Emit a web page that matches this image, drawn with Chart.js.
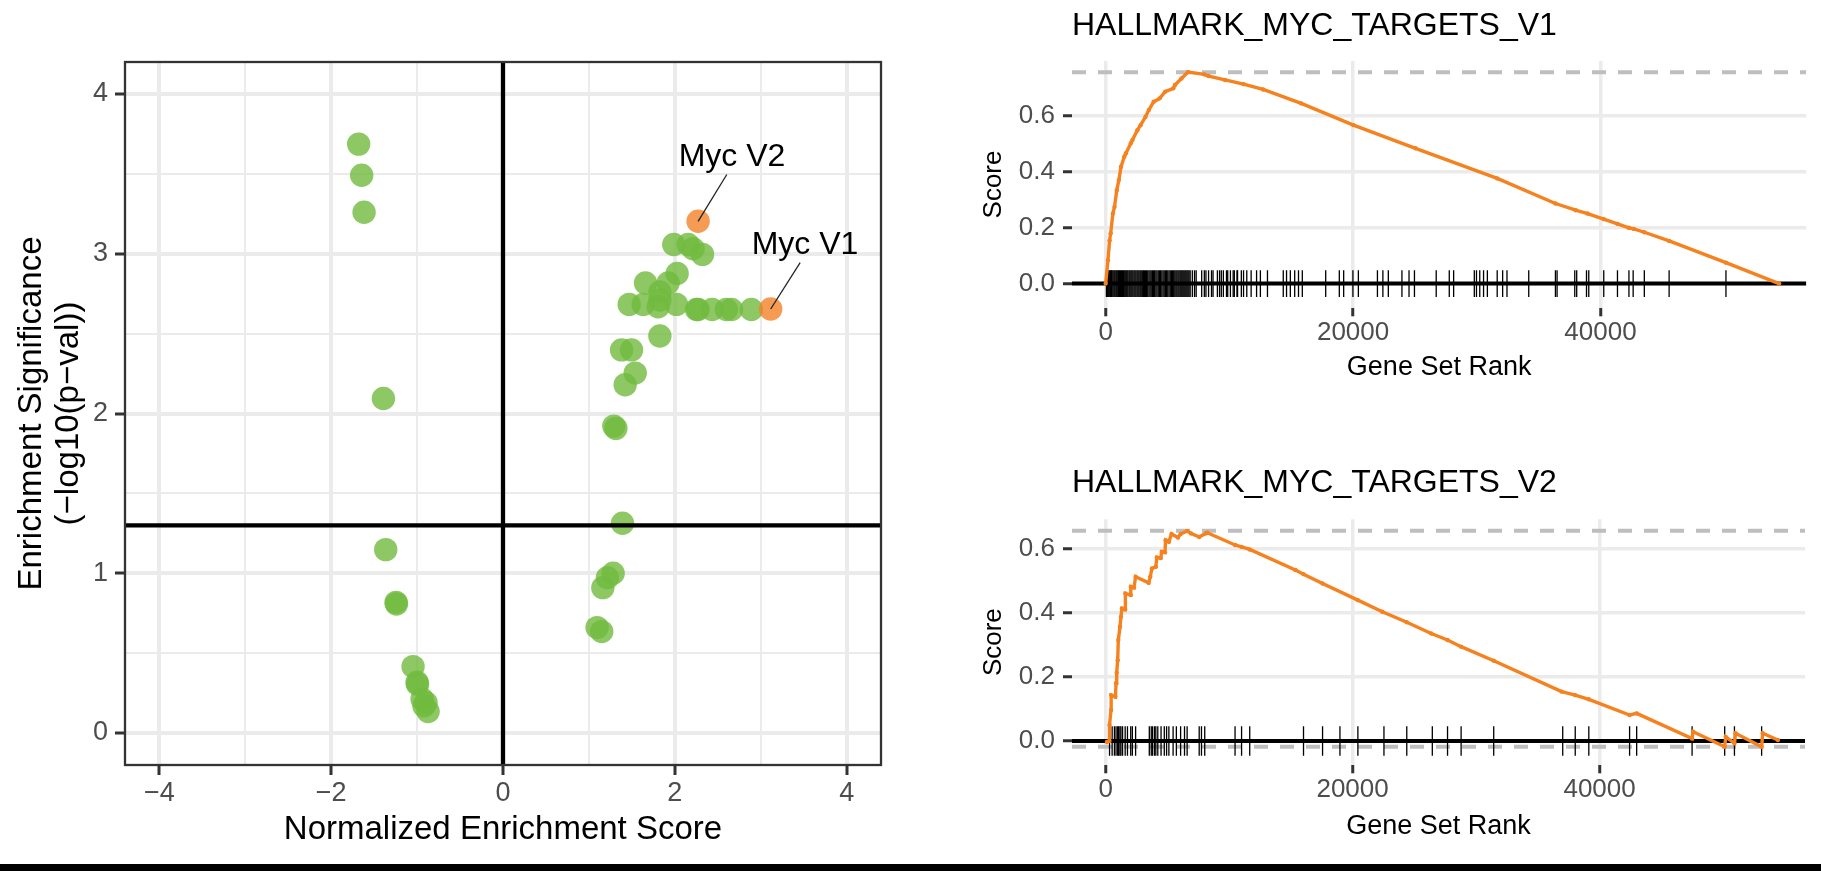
<!DOCTYPE html>
<html>
<head>
<meta charset="utf-8">
<script src="https://cdn.jsdelivr.net/npm/chart.js@4.4.1/dist/chart.umd.min.js"></script>
<style>
    html, body { margin: 0; padding: 0; background: #fff; overflow: hidden; width: 1821px; height: 871px; }
    canvas { position: absolute; }
    #nes-chart { left: 0; top: 0; }
    #v1-chart { left: 950px; top: 0; }
    #v2-chart { left: 950px; top: 430px; }
    #band { position: absolute; left: 0; top: 864px; width: 1821px; height: 7px; background: #000; }
</style>
</head>
<body>
<canvas id="nes-chart" width="950" height="864"></canvas>
<canvas id="v1-chart" width="871" height="430"></canvas>
<canvas id="v2-chart" width="871" height="434"></canvas>
<div id="band"></div>
<script>
// ---- left panel: NES vs -log10(p) ----
const nesOther = [
    -1.68, -1.645, -1.617, -1.392, -1.365, -1.245, -1.24, -1.047, -1.0, -0.995, -0.942, -0.895, -0.92, -0.872,
    1.988, 2.155, 2.213, 2.322, 2.027, 1.922, 1.659, 1.826, 1.826, 1.469, 1.632, 1.806, 2.019, 2.252,
    2.271, 2.434, 2.6, 2.66, 2.891, 1.826, 1.38, 1.496, 1.539, 1.422, 1.29, 1.314, 1.391, 1.282,
    1.215, 1.162, 1.095, 1.149,
];
const sigOther = [
    3.686, 3.491, 3.26, 2.094, 1.148, 0.818, 0.808, 0.416, 0.318, 0.305, 0.213, 0.19, 0.17, 0.135,
    3.058, 3.058, 3.031, 2.996, 2.876, 2.817, 2.817, 2.761, 2.71, 2.683, 2.683, 2.668, 2.683, 2.651,
    2.651, 2.651, 2.651, 2.651, 2.651, 2.485, 2.398, 2.398, 2.253, 2.18, 1.921, 1.907, 1.313, 1.0,
    0.972, 0.91, 0.66, 0.635,
];
const mycLabels = ["Myc V1", "Myc V2"];
const nesMyc = [3.116, 2.271];
const sigMyc = [2.654, 3.203];
const mycLabelNes = [3.515, 2.666];
const mycLabelSig = [3.052, 3.602];
const mycLeaderNes = [3.459, 2.605];
const mycLeaderSig = [2.944, 3.496];
const pCutoff = 1.3;
const nesRange = [-4.4, 4.4];
const sigRange = [-0.2, 4.2];
const nesTicks = [-4, -3, -2, -1, 0, 1, 2, 3, 4];
const sigTicks = [0, 0.5, 1, 1.5, 2, 2.5, 3, 3.5, 4];

// ---- right panels: running enrichment score ----
const v1Rank = [0, 185, 317, 404, 581, 713, 898, 1064, 1241, 1505, 1637, 2033, 2163, 2561, 2823, 3221, 3485,
    3881, 4365, 4806, 5465, 5598, 6125, 6653, 7974, 8325, 9647, 11143, 12727, 15807, 20030, 25046, 31650,
    36356, 37996, 38946, 40264, 41372, 42297, 42693, 43541, 45545, 50139, 54440];
const v1Score = [0, 0.084, 0.155, 0.18, 0.251, 0.275, 0.335, 0.371, 0.419, 0.455, 0.467, 0.503, 0.515, 0.55,
    0.568, 0.598, 0.622, 0.652, 0.664, 0.688, 0.70, 0.712, 0.735, 0.758, 0.750, 0.744, 0.73, 0.715, 0.696,
    0.646, 0.568, 0.485, 0.377, 0.287, 0.263, 0.251, 0.231, 0.214, 0.20, 0.196, 0.184, 0.153, 0.075, 0];
const v1Hits = [60, 130, 190, 250, 330, 400, 470, 520, 600, 680, 750, 830, 900, 980, 1050, 1120, 1200, 1280,
    1350, 1430, 1500, 1580, 1660, 1730, 1800, 1890, 1960, 2040, 2120, 2200, 2290, 2370, 2450, 2540, 2620,
    2700, 2790, 2870, 2960, 3050, 3130, 3220, 3310, 3400, 3500, 3590, 3680, 3780, 3870, 3960, 4060, 4150,
    4250, 4350, 4440, 4540, 4640, 4730, 4830, 4930, 5020, 5120, 5220, 5310, 5410, 5500, 5590, 5680, 5760,
    5850, 5930, 6020, 6100, 6180, 6260, 6340, 6420, 6500, 6580, 6660, 6740, 6830,
    7004, 7182, 7314, 7762, 7974, 8106, 8317, 8554, 8678, 9030, 9204, 9347, 9512, 9766, 9865, 10083, 10306,
    10400, 10614, 10660, 10966, 11144, 11406, 11758, 12198, 12506, 13078, 14355, 14620, 14927, 15279, 15587,
    15895, 17785, 18886, 19238, 19986, 20426, 21967, 22407, 22848, 23948, 24520, 24960, 26718, 27775, 28127,
    29798, 29974, 30238, 30546, 30854, 31648, 32088, 32440, 34198, 36356, 36489, 37917, 38075, 38867, 39050,
    40261, 41370, 42297, 42638, 43541, 45545, 50139];
const v1Dashed = [0.758];

const v2Rank = [106, 300, 317, 440, 449, 792, 845, 898, 977, 1030, 1162, 1241, 1320, 1584, 1600, 2033, 2040,
    2297, 2429, 3485, 3617, 3749, 4066, 4145, 4463, 4541, 4806, 4859, 5123, 5334, 5861, 6073, 6600, 6917,
    7578, 8106, 8238, 10481, 11010, 11670, 15366, 16025, 17568, 20428, 22407, 24387, 26368, 27688, 28787,
    31427, 36928, 38028, 39128, 42430, 43003, 47491, 47579, 50130, 50216, 50921, 51010, 53122, 53212, 54440];
const v2Score = [-0.003, 0.0, 0.05, 0.097, 0.143, 0.138, 0.18, 0.213, 0.252, 0.315, 0.356, 0.387, 0.413, 0.41,
    0.46, 0.455, 0.481, 0.478, 0.512, 0.493, 0.512, 0.538, 0.543, 0.572, 0.57, 0.59, 0.588, 0.626, 0.621,
    0.645, 0.634, 0.645, 0.655, 0.647, 0.636, 0.647, 0.649, 0.611, 0.605, 0.597, 0.533, 0.52, 0.491, 0.439,
    0.403, 0.37, 0.335, 0.315, 0.294, 0.25, 0.154, 0.143, 0.13, 0.081, 0.086, 0.008, 0.029, -0.018, 0.013,
    -0.007, 0.024, -0.018, 0.024, 0.003];
const v2Hits = [317, 528, 713, 845, 977, 1056, 1162, 1241, 1373, 1584, 1769, 2033, 2165, 2429, 3538, 3696,
    3802, 3960, 4066, 4225, 4489, 4752, 4937, 5123, 5465, 5729, 6073, 6389, 6600, 7578, 7762, 8026, 10481,
    11010, 11670, 16025, 17568, 18975, 20428, 22539, 24387, 26455, 27688, 28787, 31427, 37015, 38028, 39128,
    42430, 43003, 47491, 50130, 50921, 53122];
const v2Dashed = [0.655, -0.018];

const rankRange = [-2722, 56634];
const rankTicks = [0, 20000, 40000];
const scoreTicks = [0, 0.2, 0.4, 0.6];

const FONT = "'Liberation Sans', Arial, Helvetica, sans-serif";
const MINUS = "\u2212";

Chart.defaults.font.family = FONT;
Chart.defaults.animation = false;
Chart.defaults.responsive = false;
Chart.defaults.events = [];
Chart.defaults.plugins.legend.display = false;
Chart.defaults.plugins.tooltip.enabled = false;

function pts(xs, ys) {
    return xs.map((x, i) => ({ x, y: ys[i] }));
}

function fmtMinus(v) {
    return v < 0 ? MINUS + Math.abs(v) : String(v);
}

const panelFrame = {
    id: "panelFrame",
    afterDatasetsDraw(chart) {
        const { ctx, chartArea: a } = chart;
        ctx.save();
        ctx.strokeStyle = "#333333";
        ctx.lineWidth = 2.3;
        ctx.strokeRect(a.left, a.top, a.right - a.left, a.bottom - a.top);
        ctx.restore();
    },
};

const mycText = {
    id: "mycText",
    afterDatasetsDraw(chart) {
        const { ctx, scales } = chart;
        ctx.save();
        ctx.font = `32px ${FONT}`;
        ctx.fillStyle = "#000";
        ctx.textAlign = "center";
        ctx.textBaseline = "middle";
        mycLabels.forEach((label, i) => {
            ctx.fillText(label, scales.x.getPixelForValue(mycLabelNes[i]), scales.y.getPixelForValue(mycLabelSig[i]));
        });
        ctx.restore();
    },
};

function initNesChart() {
    const canvas = document.getElementById("nes-chart");
    const lineSet = (data, width, color) => ({
        data, showLine: true, borderColor: color, borderWidth: width, pointRadius: 0, order: 0,
    });

    new Chart(canvas, {
        type: "scatter",
        data: {
            datasets: [
                lineSet([{ x: nesRange[0], y: pCutoff }, { x: nesRange[1], y: pCutoff }], 4.3, "#000"),
                lineSet([{ x: 0, y: sigRange[0] }, { x: 0, y: sigRange[1] }], 4.3, "#000"),
                ...mycLabels.map((_, i) => lineSet(
                    [{ x: mycLeaderNes[i], y: mycLeaderSig[i] }, { x: nesMyc[i], y: sigMyc[i] }], 1.3, "#222")),
                {
                    data: pts(nesMyc, sigMyc),
                    backgroundColor: "rgba(242, 130, 40, 0.8)",
                    borderWidth: 0,
                    pointRadius: 11.7,
                    order: 1,
                },
                {
                    data: pts(nesOther, sigOther),
                    backgroundColor: "rgba(112, 186, 62, 0.8)",
                    borderWidth: 0,
                    pointRadius: 11.7,
                    order: 2,
                },
            ],
        },
        options: {
            layout: { padding: { top: 62, right: 69, left: 0, bottom: 0 } },
            scales: {
                x: {
                    type: "linear",
                    min: nesRange[0],
                    max: nesRange[1],
                    afterBuildTicks(scale) { scale.ticks = nesTicks.map((value) => ({ value })); },
                    afterFit(scale) { scale.height = 99; },
                    border: { display: false },
                    grid: {
                        color: "#EBEBEB",
                        lineWidth: (c) => (c.tick && c.tick.value % 2 === 0 ? 4 : 2),
                        tickLength: 10,
                        tickWidth: 3,
                        tickColor: (c) => (c.tick && c.tick.value % 2 === 0 ? "#333333" : "rgba(0,0,0,0)"),
                    },
                    ticks: {
                        color: "#4D4D4D",
                        font: { size: 27 },
                        padding: 2,
                        autoSkip: false,
                        maxRotation: 0,
                        callback: (v) => (v % 2 === 0 ? fmtMinus(v) : ""),
                    },
                    title: {
                        display: true,
                        text: "Normalized Enrichment Score",
                        color: "#000",
                        font: { size: 33 },
                        padding: { top: 0, bottom: 14 },
                    },
                },
                y: {
                    type: "linear",
                    min: sigRange[0],
                    max: sigRange[1],
                    afterBuildTicks(scale) { scale.ticks = sigTicks.map((value) => ({ value })); },
                    afterFit(scale) { scale.width = 125; },
                    border: { display: false },
                    grid: {
                        color: "#EBEBEB",
                        lineWidth: (c) => (c.tick && Number.isInteger(c.tick.value) ? 4 : 2),
                        tickLength: 10,
                        tickWidth: 3,
                        tickColor: (c) => (c.tick && Number.isInteger(c.tick.value) ? "#333333" : "rgba(0,0,0,0)"),
                    },
                    ticks: {
                        color: "#4D4D4D",
                        font: { size: 27 },
                        padding: 7,
                        autoSkip: false,
                        callback: (v) => (Number.isInteger(v) ? String(v) : ""),
                    },
                    title: {
                        display: true,
                        text: ["Enrichment Significance", `(${MINUS}log10(p${MINUS}val))`],
                        color: "#000",
                        font: { size: 33, lineHeight: 1.12 },
                        padding: { top: 13.5, bottom: 0 },
                    },
                },
            },
        },
        plugins: [panelFrame, mycText],
    });
}

function initEsChart(cfg) {
    const canvas = document.getElementById(cfg.id);
    const hline = (y, color, width, dash, order) => ({
        data: [{ x: rankRange[0], y }, { x: rankRange[1], y }],
        showLine: true,
        borderColor: color,
        borderWidth: width,
        borderDash: dash,
        pointRadius: 0,
        order,
    });

    new Chart(canvas, {
        type: "scatter",
        data: {
            datasets: [
                {
                    data: pts(cfg.rank, cfg.score),
                    showLine: true,
                    borderColor: "#F5821F",
                    borderWidth: 3.4,
                    pointRadius: 2.2,
                    pointBackgroundColor: "#F5821F",
                    pointBorderWidth: 0,
                    order: 0,
                },
                {
                    data: cfg.hits.map((x) => ({ x, y: 0 })),
                    pointStyle: "line",
                    rotation: 90,
                    pointRadius: cfg.hitHalf,
                    borderColor: "#000",
                    borderWidth: 1.3,
                    order: 1,
                },
                hline(0, "#000", 4, [], 2),
                ...cfg.dashed.map((y) => hline(y, "#BEBEBE", 4, [14, 12], 3)),
            ],
        },
        options: {
            layout: { padding: 0 },
            plugins: {
                title: {
                    display: true,
                    text: cfg.title,
                    align: "start",
                    fullSize: false,
                    color: "#000",
                    font: { size: 32, weight: "normal" },
                    padding: cfg.titlePad,
                },
            },
            scales: {
                x: {
                    type: "linear",
                    min: rankRange[0],
                    max: rankRange[1],
                    afterBuildTicks(scale) { scale.ticks = rankTicks.map((value) => ({ value })); },
                    afterFit(scale) { scale.height = cfg.xAxisHeight; },
                    border: { display: false },
                    grid: { color: "#EBEBEB", lineWidth: 3.5, tickLength: 8.3, tickWidth: 3, tickColor: "#333333" },
                    ticks: {
                        color: "#4D4D4D",
                        font: { size: 26 },
                        padding: 1,
                        autoSkip: false,
                        maxRotation: 0,
                        callback: (v) => String(v),
                    },
                    title: {
                        display: true,
                        text: "Gene Set Rank",
                        color: "#000",
                        font: { size: 27 },
                        padding: { top: 0, bottom: cfg.xTitlePad },
                    },
                },
                y: {
                    type: "linear",
                    min: cfg.yRange[0],
                    max: cfg.yRange[1],
                    afterBuildTicks(scale) { scale.ticks = scoreTicks.map((value) => ({ value })); },
                    afterFit(scale) { scale.width = 122; },
                    border: { display: false },
                    grid: { color: "#EBEBEB", lineWidth: 3.5, tickLength: 9, tickWidth: 3, tickColor: "#333333" },
                    ticks: {
                        color: "#4D4D4D",
                        font: { size: 26 },
                        padding: 8,
                        autoSkip: false,
                        callback: (v) => v.toFixed(1),
                    },
                    title: {
                        display: true,
                        text: "Score",
                        color: "#000",
                        font: { size: 26 },
                        padding: { top: 28.4, bottom: 0 },
                    },
                },
            },
        },
    });
}

initNesChart();
initEsChart({
    id: "v1-chart",
    title: "HALLMARK_MYC_TARGETS_V1",
    rank: v1Rank,
    score: v1Score,
    hits: v1Hits,
    hitHalf: 13.4,
    dashed: v1Dashed,
    yRange: [-0.0876, 0.798],
    titlePad: { top: 6.8, bottom: 15.8 },
    xAxisHeight: 122,
    xTitlePad: 45.8,
});
initEsChart({
    id: "v2-chart",
    title: "HALLMARK_MYC_TARGETS_V2",
    rank: v2Rank,
    score: v2Score,
    hits: v2Hits,
    hitHalf: 14.7,
    dashed: v2Dashed,
    yRange: [-0.0748, 0.691],
    titlePad: { top: 33.8, bottom: 17.1 },
    xAxisHeight: 99,
    xTitlePad: 21.1,
});
</script>
</body>
</html>
